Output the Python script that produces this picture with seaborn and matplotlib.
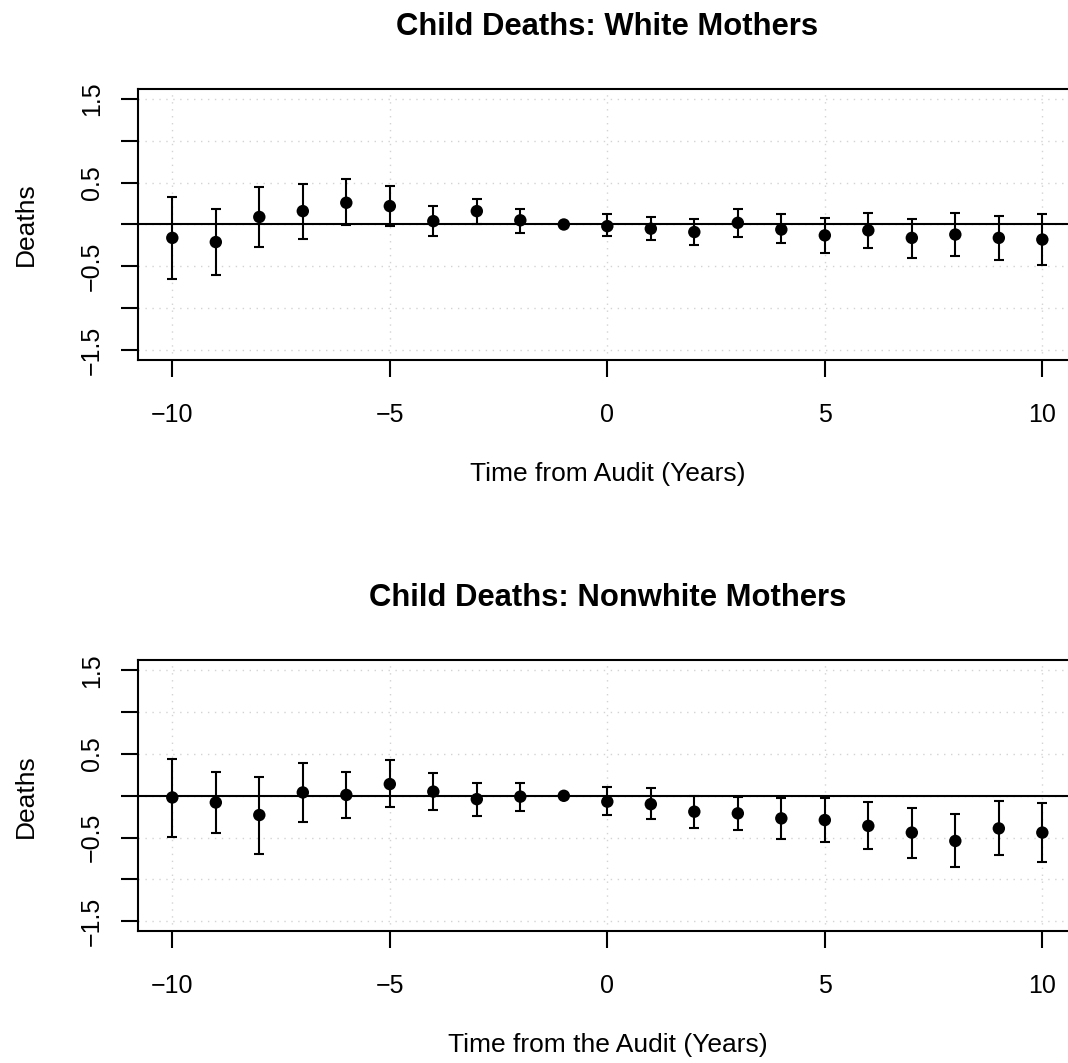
import numpy as np
import pandas as pd
import matplotlib
matplotlib.use("Agg")
import matplotlib.pyplot as plt
import seaborn as sns

# Event-study estimates (years relative to the audit) with 95% confidence bounds
years = [-10, -9, -8, -7, -6, -5, -4, -3, -2, -1, 0, 1, 2, 3, 4, 5, 6, 7, 8, 9, 10]

white_est = [-0.16, -0.21, 0.09, 0.16, 0.26, 0.22, 0.04, 0.16, 0.05, 0.0, -0.02,
             -0.05, -0.09, 0.02, -0.06, -0.13, -0.07, -0.16, -0.12, -0.16, -0.18]
white_lo = [-0.65, -0.60, -0.27, -0.17, -0.01, -0.02, -0.14, 0.0, -0.10, 0.0, -0.14,
            -0.19, -0.24, -0.15, -0.22, -0.34, -0.28, -0.40, -0.38, -0.43, -0.48]
white_hi = [0.33, 0.19, 0.45, 0.48, 0.54, 0.46, 0.22, 0.31, 0.19, 0.0, 0.12,
            0.09, 0.07, 0.18, 0.12, 0.08, 0.14, 0.07, 0.14, 0.10, 0.12]

nonwhite_est = [-0.02, -0.08, -0.23, 0.04, 0.01, 0.14, 0.05, -0.04, -0.01, 0.0, -0.07,
                -0.10, -0.19, -0.21, -0.27, -0.29, -0.36, -0.44, -0.54, -0.39, -0.44]
nonwhite_lo = [-0.49, -0.44, -0.69, -0.31, -0.26, -0.13, -0.17, -0.24, -0.18, 0.0, -0.23,
               -0.28, -0.38, -0.41, -0.52, -0.55, -0.64, -0.74, -0.85, -0.71, -0.79]
nonwhite_hi = [0.44, 0.29, 0.22, 0.39, 0.28, 0.43, 0.27, 0.15, 0.15, 0.0, 0.10,
               0.09, 0.0, -0.01, -0.03, -0.03, -0.08, -0.15, -0.22, -0.06, -0.09]

x_ticks = [-10, -5, 0, 5, 10]
y_ticks = [-1.5, -1.0, -0.5, 0.0, 0.5, 1.0, 1.5]
y_tick_labels = ["\u22121.5", "", "\u22120.5", "", "0.5", "", "1.5"]

sns.set_style("ticks")
plt.rcParams["font.family"] = ["Liberation Sans", "DejaVu Sans"]
plt.rcParams["text.color"] = "black"
plt.rcParams["axes.labelcolor"] = "black"
plt.rcParams["xtick.color"] = "black"
plt.rcParams["ytick.color"] = "black"

GRID = "#D3D3D3"
LW = 1.5


def draw_panel(ax, est, lo, hi, title, xlabel):
    df = pd.DataFrame({"year": years, "est": est, "lo": lo, "hi": hi})

    for v in x_ticks:
        ax.axvline(v, color=GRID, lw=1.0, ls=(0, (1, 4)), zorder=0)
    for v in y_ticks:
        ax.axhline(v, color=GRID, lw=1.0, ls=(0, (1, 4)), zorder=0)
    ax.axhline(0, color="black", lw=LW, zorder=1)

    ax.errorbar(df["year"], df["est"],
                yerr=[df["est"] - df["lo"], df["hi"] - df["est"]],
                fmt="none", ecolor="black", elinewidth=LW,
                capsize=3.6, capthick=LW, zorder=2)
    sns.scatterplot(data=df, x="year", y="est", ax=ax, color="black",
                    s=80, edgecolor="none", zorder=3, legend=False)

    ax.set_xlim(-10.8, 10.8)
    ax.set_ylim(-1.62, 1.62)
    ax.set_xticks(x_ticks)
    ax.set_xticklabels([f"{t}".replace("-", "\u2212") for t in x_ticks])
    ax.set_yticks(y_ticks)
    ax.set_yticklabels(y_tick_labels, rotation=90, va="center")

    ax.tick_params(axis="both", direction="out", length=12, width=LW,
                   color="black", labelsize=18, labelcolor="black")
    ax.tick_params(axis="x", pad=19)
    ax.tick_params(axis="y", pad=12)

    for s in ax.spines.values():
        s.set_visible(True)
        s.set_color("black")
        s.set_linewidth(LW)

    ax.set_title(title, fontsize=22.3, fontweight="bold", pad=39, color="black")
    ax.set_xlabel(xlabel, fontsize=19)
    ax.set_ylabel("Deaths", fontsize=19)
    ax.xaxis.set_label_coords(0.5, -0.375)
    ax.yaxis.set_label_coords(-0.106, 0.5)


fig = plt.figure(figsize=(10.68, 10.63), dpi=100)
ax1 = fig.add_axes([0.12875, 0.66134, 0.8798, 0.25494])
ax2 = fig.add_axes([0.12875, 0.1239, 0.8798, 0.25494])

draw_panel(ax1, white_est, white_lo, white_hi,
           "Child Deaths: White Mothers", "Time from Audit (Years)")
draw_panel(ax2, nonwhite_est, nonwhite_lo, nonwhite_hi,
           "Child Deaths: Nonwhite Mothers", "Time from the Audit (Years)")

fig.savefig("out.png", dpi=100, facecolor="white")
